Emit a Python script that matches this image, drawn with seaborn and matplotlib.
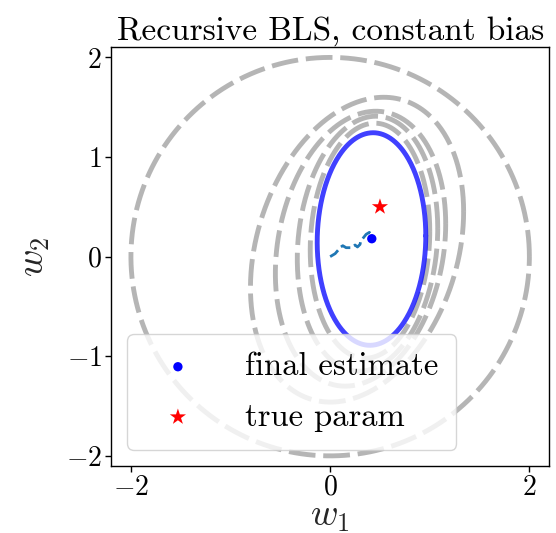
import numpy as np
import matplotlib
matplotlib.use("Agg")
import matplotlib.pyplot as plt
import seaborn as sns

# Recursive BLS estimate trajectory (w1, w2) over the iterations
traj_w1 = [0.0, 0.05, 0.107, 0.127, 0.16, 0.217, 0.25, 0.274, 0.30, 0.307, 0.334, 0.361, 0.394, 0.418, 0.418]
traj_w2 = [0.0, 0.03, 0.097, 0.11, 0.09, 0.09, 0.117, 0.097, 0.123, 0.157, 0.19, 0.224, 0.244, 0.207, 0.18]

# Final estimate and true parameter
final_est = [0.418, 0.18]
true_param = [0.5, 0.5]

# Uncertainty ellipses at intermediate steps: centre, half-extents and correlation
ell_cx = [0.0, 0.27, 0.305, 0.375, 0.40]
ell_cy = [0.0, 0.07, 0.08, 0.13, 0.16]
ell_sx = [2.0, 1.07, 0.855, 0.705, 0.60]
ell_sy = [2.0, 1.53, 1.38, 1.28, 1.18]
ell_rho = [0.0, 0.25, 0.18, 0.12, 0.08]

# Final uncertainty ellipse
fin_cx, fin_cy, fin_sx, fin_sy, fin_rho = 0.415, 0.177, 0.545, 1.067, 0.03

x_ticks = [-2, 0, 2]
y_ticks = [-2, -1, 0, 1, 2]


def ellipse_pts(cx, cy, sx, sy, rho, n=400):
    t = np.linspace(0, 2 * np.pi, n)
    x = cx + sx * np.cos(t)
    y = cy + sy * (rho * np.cos(t) + np.sqrt(1 - rho ** 2) * np.sin(t))
    return x, y


sns.set_theme(style="ticks")
plt.rcParams["font.family"] = ["cmr10", "DejaVu Serif"]
plt.rcParams["mathtext.fontset"] = "cm"
plt.rcParams["axes.formatter.use_mathtext"] = True
plt.rcParams["axes.unicode_minus"] = True
plt.rcParams["axes.edgecolor"] = "black"
plt.rcParams["xtick.color"] = "black"
plt.rcParams["ytick.color"] = "black"
plt.rcParams["text.color"] = "black"

fig = plt.figure(figsize=(5.56, 5.33), dpi=100)
ax = fig.add_axes([111 / 556, 67 / 533, 438.3 / 556, 418.7 / 533])

for cx, cy, sx, sy, r in zip(ell_cx, ell_cy, ell_sx, ell_sy, ell_rho):
    ex, ey = ellipse_pts(cx, cy, sx, sy, r)
    ln, = ax.plot(ex, ey, color="k", alpha=0.32, lw=3.5)
    ln.set_dashes((5.5, 1.6))

fx, fy = ellipse_pts(fin_cx, fin_cy, fin_sx, fin_sy, fin_rho)
ax.plot(fx, fy, color="blue", alpha=0.75, lw=3.5)

sns.lineplot(x=traj_w1, y=traj_w2, sort=False, ax=ax, color="tab:blue",
             lw=2.0, linestyle="--", estimator=None)

sns.scatterplot(x=[final_est[0]], y=[final_est[1]], ax=ax, color="blue",
                s=45, edgecolor="none", label="final estimate", zorder=5)
sns.scatterplot(x=[true_param[0]], y=[true_param[1]], ax=ax, color="red",
                marker="*", s=150, edgecolor="none", label="true param", zorder=5)

ax.set_xlim(-2.2, 2.2)
ax.set_ylim(-2.1, 2.1)
ax.set_aspect("equal")
ax.set_xticks(x_ticks)
ax.set_yticks(y_ticks)
ax.tick_params(labelsize=20, length=4.5, width=1)
ax.tick_params(axis="x", pad=1.5)
ax.tick_params(axis="y", pad=2)
for s in ax.spines.values():
    s.set_linewidth(1.0)

ax.set_xlabel("$w_1$", fontsize=27, labelpad=0)
ax.set_ylabel("$w_2$", fontsize=27, labelpad=10)
ax.set_title("Recursive BLS, constant bias", fontsize=24)

ax.legend(loc="lower left", fontsize=23.5, framealpha=0.8,
          borderpad=0.55, labelspacing=0.65, handletextpad=1.05)

fig.savefig("out.png", dpi=100)
